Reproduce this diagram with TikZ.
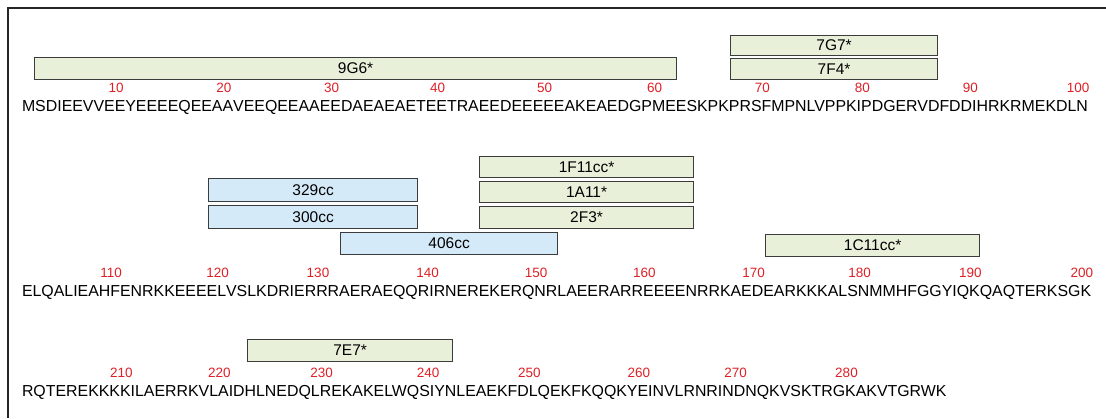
\documentclass[tikz,border=0pt]{standalone}
\usepackage{fontspec}
\setmainfont{Liberation Sans}
\usetikzlibrary{positioning}
\definecolor{abgreen}{RGB}{233,240,218}
\definecolor{abblue}{RGB}{213,234,249}
\definecolor{numred}{RGB}{222,32,38}
\definecolor{edgegray}{RGB}{60,60,60}
\tikzset{%
  seq/.style={inner sep=0pt, outer sep=0pt, text height=11.5pt, text depth=3.5pt,
    font=\fontsize{15.9}{18}\selectfont}, % one chunk of the sequence
  num/.style={inner sep=0pt, text=numred, xshift=-4pt, font=\fontsize{13.5}{13.5}\selectfont},
  abbox/.style={draw=edgegray, line width=1.2pt, inner sep=0pt, anchor=north west,
    font=\fontsize{15.5}{15.5}\selectfont},
  gbox/.style={abbox, fill=abgreen},
  bbox/.style={abbox, fill=abblue}
}

\begin{document}
\begin{tikzpicture}[x=1pt, y=-1pt]
    \useasboundingbox (0,0) rectangle (1106,418);
    \draw[line width=1.6pt, black!85] (1106,8) -- (8,8) -- (8,418);

    % residues 1-100
    \node[seq, anchor=base west] (resA0) at (21,111) {};
    \foreach \pre/\last/\num [count=\i] in {MSDIEEVVE/E/10, YEEEEQEEA/A/20, VEEQEEAAE/E/30,
        DAEAEAETE/E/40, TRAEEDEEE/E/50, EAKEAEDGP/M/60, EESKPKPRS/F/70, MPNLVPPKI/P/80,
        DGERVDFDD/I/90, HRKRMEKDL/N/100} {
      \pgfmathtruncatemacro\j{\i-1}
      \node[seq, right=0pt of resA\j] (seqA\i) {\pre};
      \node[seq, right=0pt of seqA\i] (resA\i) {\last};
      \node[num, above=7pt of resA\i] (numA\i) {\num};
    }

    % residues 101-200
    \node[seq, anchor=base west] (resB0) at (21,296) {};
    \foreach \pre/\last/\num [count=\i] in {ELQALIEAH/F/110, ENRKKEEEE/L/120, VSLKDRIER/R/130,
        RAERAEQQR/I/140, RNEREKERQ/N/150, RLAEERARR/E/160, EEENRRKAE/D/170, EARKKKALS/N/180,
        MMHFGGYIQ/K/190, QAQTERKSG/K/200} {
      \pgfmathtruncatemacro\j{\i-1}
      \node[seq, right=0pt of resB\j] (seqB\i) {\pre};
      \node[seq, right=0pt of seqB\i] (resB\i) {\last};
      \node[num, above=7pt of resB\i] (numB\i) {\num};
    }

    % residues 201-288
    \node[seq, anchor=base west] (resC0) at (21,396) {};
    \foreach \pre/\last/\num [count=\i] in {RQTEREKKK/K/210, ILAERRKVL/A/220, IDHLNEDQL/R/230,
        EKAKELWQS/I/240, YNLEAEKFD/L/250, QEKFKQQKY/E/260, INVLRNRIN/D/270, NQKVSKTRG/K/280} {
      \pgfmathtruncatemacro\j{\i-1}
      \node[seq, right=0pt of resC\j] (seqC\i) {\pre};
      \node[seq, right=0pt of seqC\i] (resC\i) {\last};
      \node[num, above=7pt of resC\i] (numC\i) {\num};
    }
    \node[seq, right=0pt of resC8] (seqC9) {AKVTGRWK};

    % antibody epitopes
    \node[gbox, minimum width=642pt, minimum height=22pt] (ab9G6) at (34,57) {9G6*};
    \node[gbox, minimum width=207pt, minimum height=20pt] (ab7G7) at (730,35) {7G7*};
    \node[gbox, minimum width=207pt, minimum height=21pt] (ab7F4) at (730,58) {7F4*};

    \node[bbox, minimum width=209pt, minimum height=23pt] (ab329) at (208,178) {329cc};
    \node[bbox, minimum width=209pt, minimum height=23pt] (ab300) at (208,205) {300cc};
    \node[bbox, minimum width=217pt, minimum height=22pt] (ab406) at (340,232) {406cc};
    \node[gbox, minimum width=214pt, minimum height=21pt] (ab1F11) at (479,156) {1F11cc*};
    \node[gbox, minimum width=214pt, minimum height=21pt] (ab1A11) at (479,181) {1A11*};
    \node[gbox, minimum width=214pt, minimum height=22pt] (ab2F3) at (479,206) {2F3*};
    \node[gbox, minimum width=214pt, minimum height=22pt] (ab1C11) at (765,234) {1C11cc*};

    \node[gbox, minimum width=205pt, minimum height=22pt] (ab7E7) at (247,339) {7E7*};
\end{tikzpicture}
\end{document}
